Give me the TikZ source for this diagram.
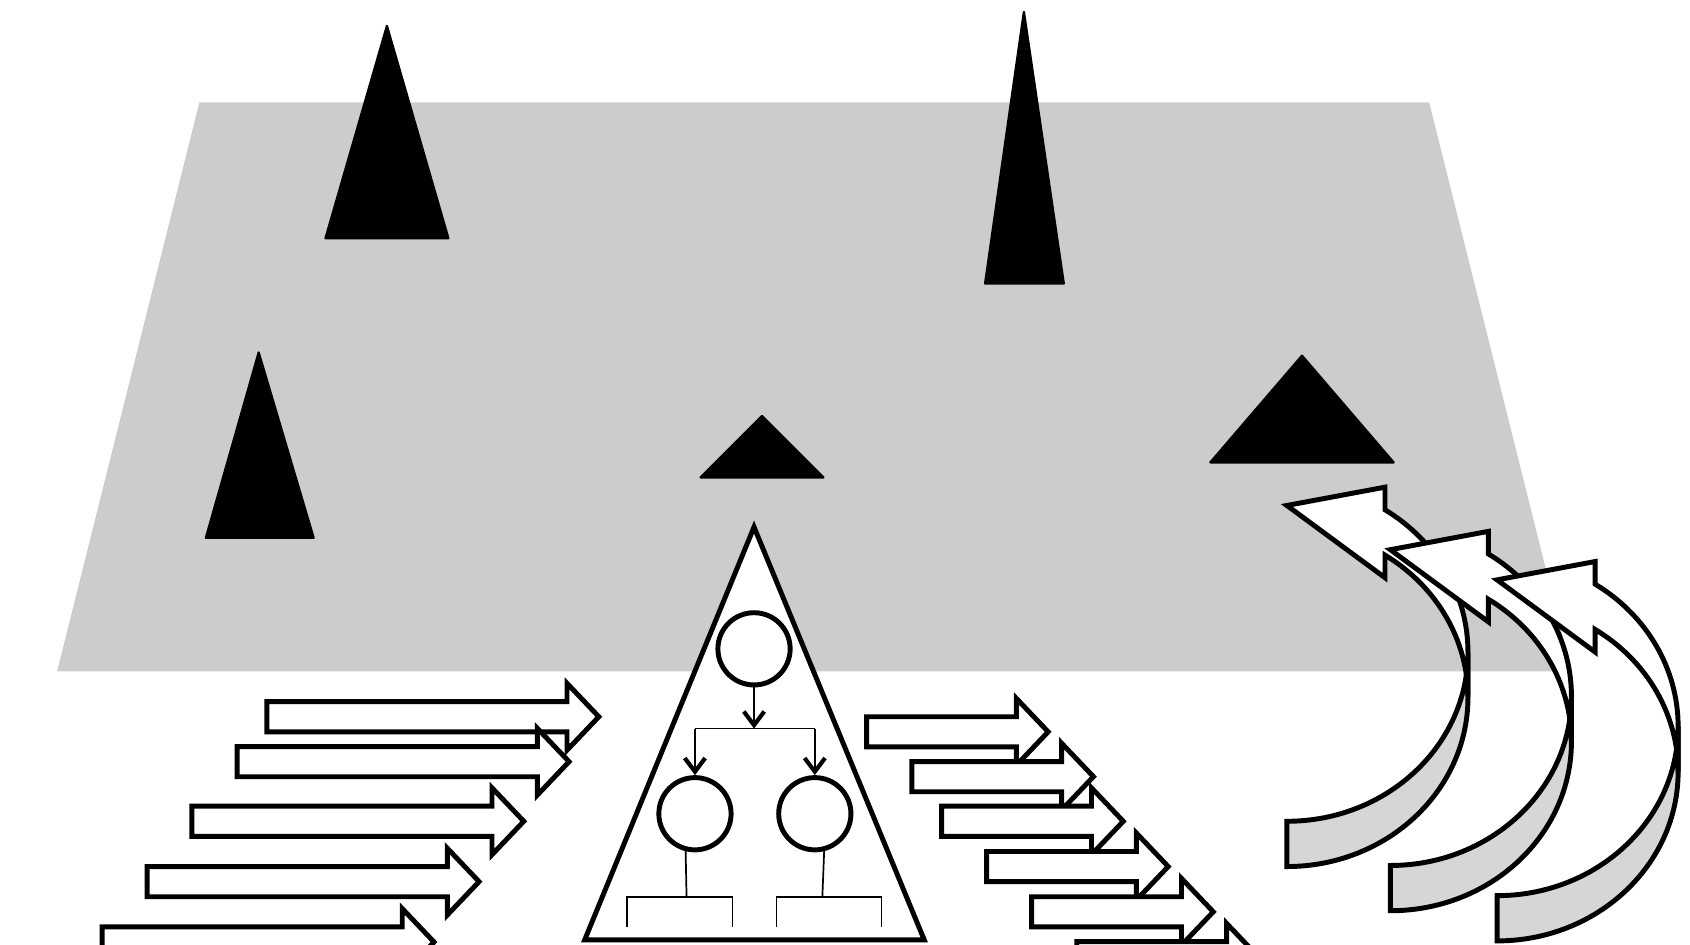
\documentclass[tikz,border=0pt]{standalone}
\usetikzlibrary{arrows.meta}
\begin{document}
\begin{tikzpicture}[x=0.01cm, y=0.01cm,
  rand/.style={line width=1.3pt, line join=miter},
  pfeil/.style={rand, draw=black, fill=white},
  zacke/.style={fill=black, draw=black, line width=0.6pt, line join=round},
  knoten/.style={circle, draw, line width=1.3pt, minimum size=0.67cm, inner sep=0pt, fill=white},
  ast/.style={line width=0.45pt},
  spitze/.style={-{Straight Barb[length=3.6pt, width=5.4pt, line width=1.1pt]}}]
\def\rx{168}
\def\ry{157}
\clip (0,0) rectangle (1568,-876);
% Flaeche
\fill[black!20] (185,-95) -- (1326,-95) -- (1458,-623) -- (53,-623) -- cycle;
% schwarze Spitzen
\draw[zacke] (359,-24) -- (416,-221) -- (302,-221) -- cycle;
\draw[zacke] (950,-11) -- (987,-263) -- (914,-263) -- cycle;
\draw[zacke] (240,-327) -- (291,-499) -- (191,-499) -- cycle;
\draw[zacke] (707,-386) -- (764,-443) -- (650,-443) -- cycle;
\draw[zacke] (1208,-330) -- (1293,-429) -- (1123,-429) -- cycle;
% Dreieck mit Baum
\draw[rand, fill=white] (699.6,-489) -- (857.5,-872) -- (542.5,-872) -- cycle;
\node[knoten] (wurzel) at (699.6,-602) {};
\node[knoten] (links)  at (644.8,-755) {};
\node[knoten] (rechts) at (756,-755) {};
\coordinate (gabel)  at (699.6,-676);
\coordinate (gabelL) at (644.8,-676);
\coordinate (gabelR) at (756,-676);
\draw[ast, spitze] (wurzel) -- (gabel);
\draw[ast] (gabelL) -- (gabelR);
\draw[ast, spitze] (gabelL) -- (links);
\draw[ast, spitze] (gabelR) -- (rechts);
% Klammern unten
\coordinate (stielL) at (637,-832);
\coordinate (stielR) at (763,-832);
\coordinate (beinL1) at (581.5,-860);
\coordinate (beinL2) at (679.5,-860);
\coordinate (beinR1) at (720.5,-860);
\coordinate (beinR2) at (818,-860);
\draw[ast] (links.256) -- (stielL);
\draw[ast] (rechts.284) -- (stielR);
\draw[ast] (beinL1) -- ++(0,28) -| (beinL2);
\draw[ast] (beinR1) -- ++(0,28) -| (beinR2);
% Blockpfeile links (Schaft 278.5)
\foreach \x/\y in {247.6/665, 220/706.7, 178/762, 136.5/818, 94.7/874}
  \draw[pfeil] (\x,-\y+14) -- ++(278.5,0) -- ++(0,17) -- ++(29.5,-31) -- ++(-29.5,-31)
    -- ++(0,17) -- ++(-278.5,0) -- cycle;
% Blockpfeile rechts (Schaft 139)
\foreach \x/\y in {804/679, 846/720.6, 873.7/762, 915.4/804, 957.2/846, 999/887.7}
  \draw[pfeil] (\x,-\y+14) -- ++(139,0) -- ++(0,17) -- ++(29.5,-31) -- ++(-29.5,-31)
    -- ++(0,17) -- ++(-139,0) -- cycle;
% gebogene Pfeile (Rueckseite grau, Vorderseite weiss)
\foreach \x/\y in {1194/804, 1290/845, 1389/873} {
  \begin{scope}[shift={(\x,-\y)}]
    \draw[rand, fill=black!16] (0,0) arc[start angle=-90, end angle=0, x radius=\rx, y radius=\ry]
      -- (\rx,199) arc[start angle=0, end angle=-90, x radius=\rx, y radius=\ry] -- cycle;
    \draw[rand, fill=white] (\rx,\ry) arc[start angle=0, end angle=57.2, x radius=\rx, y radius=\ry]
      -- (91,268) -- (0,335) -- (91,352) -- (91,331)
      arc[start angle=57.2, end angle=0, x radius=\rx, y radius=\ry] -- cycle;
  \end{scope}
}
\end{tikzpicture}
\end{document}
